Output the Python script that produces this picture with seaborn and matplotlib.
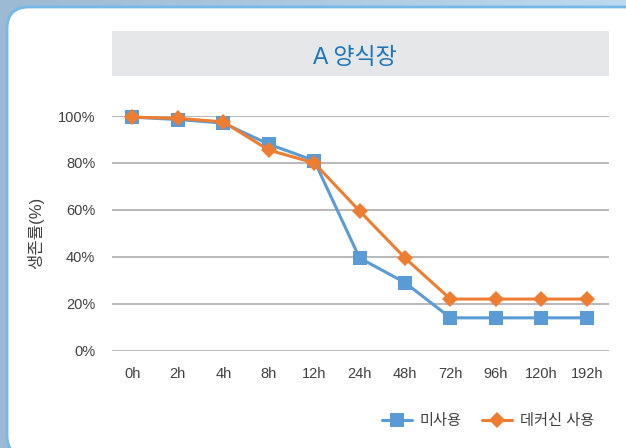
import numpy as np
import pandas as pd
import matplotlib
matplotlib.use('Agg')
import matplotlib.pyplot as plt
from matplotlib.patches import FancyBboxPatch, Rectangle
import seaborn as sns

# 데이터
times = ['0h', '2h', '4h', '8h', '12h', '24h', '48h', '72h', '96h', '120h', '192h']
unused = [99.5, 98.5, 97, 88, 81, 39.5, 29, 14, 14, 14, 14]          # 미사용
decursin = [99.5, 99, 97.5, 85.5, 80, 59.5, 39.5, 22, 22, 22, 22]    # 데커신 사용
groups = ['미사용', '데커신 사용']
colors = ['#5b9bd5', '#ed7d31']

df = pd.DataFrame({
    'time': times * 2,
    'rate': np.array(unused + decursin) / 100,
    'group': [groups[0]] * len(times) + [groups[1]] * len(times),
})

sns.set_style('white')
plt.rcParams['font.family'] = ['Liberation Sans', 'Noto Sans CJK KR', 'DejaVu Sans']
text_col = '#404040'

W, H = 626, 448
fig = plt.figure(figsize=(W / 100, H / 100), dpi=100)

# 배경 (테두리 + 흰 패널 + 제목 박스)
bg = fig.add_axes([0, 0, 1, 1], zorder=-5)
bg.set_xlim(0, W)
bg.set_ylim(H, 0)
bg.axis('off')
grad = np.linspace(0, 1, 256).reshape(1, -1)
cmap = matplotlib.colors.LinearSegmentedColormap.from_list('bgc', ['#9dbad4', '#bcd9ef'])
bg.imshow(grad, extent=(0, W, H, 0), aspect='auto', cmap=cmap)
bg.add_patch(FancyBboxPatch((7, 7), 700, 450, boxstyle='round,pad=0,rounding_size=22',
                            fc='white', ec='#74b8e8', lw=2))
bg.add_patch(Rectangle((112, 31), 497, 45, fc='#e6e7e8', ec='none'))
bg.text(355, 57, 'A 양식장', ha='center', va='center', fontsize=16.5, color='#1b75bc')

# 그래프
ax = fig.add_axes([112 / W, 1 - 350.7 / H, 497 / W, 234.7 / H])
ax.patch.set_alpha(0)
sns.lineplot(data=df, x='time', y='rate', hue='group', style='group',
             markers={'미사용': 's', '데커신 사용': 'D'}, dashes=False,
             palette=colors, linewidth=2.2, markeredgewidth=0, sort=False,
             ax=ax)

sizes = [9.6, 7.9]
for line, ms in zip(ax.lines, sizes):
    line.set_markersize(ms)
    line.set_clip_on(False)

ax.set_ylim(0, 1)
ax.set_xlim(-0.45, 10.49)
ax.set_yticks(np.arange(0, 1.01, 0.2))
ax.set_yticklabels([f'{int(v)}%' for v in np.arange(0, 101, 20)])
ax.grid(axis='y', color='#a6a6a6', lw=1.1)
ax.set_axisbelow(True)
for s in ax.spines.values():
    s.set_visible(False)
ax.tick_params(axis='both', length=0, labelsize=10.5, colors=text_col)
ax.tick_params(axis='y', pad=12)
ax.tick_params(axis='x', pad=12)
ax.set_xlabel('')
ax.set_ylabel('생존률(%)', fontsize=12, color=text_col, labelpad=10)

handles, labels = ax.get_legend_handles_labels()
ax.get_legend().remove()
for h, ms in zip(handles, sizes):
    h.set_markersize(ms)
    h.set_markeredgewidth(0)
fig.legend(handles, labels, loc='center right', bbox_to_anchor=(608 / W, 1 - 421 / H),
           ncol=2, frameon=False, fontsize=11, handlelength=2.0, handletextpad=0.5,
           columnspacing=1.3, labelcolor=text_col)

fig.savefig('out.png', dpi=100)
